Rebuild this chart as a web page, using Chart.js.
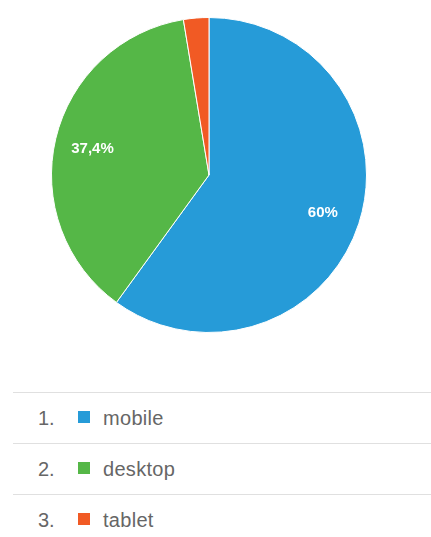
<!DOCTYPE html>
<html>
<head>
<meta charset="utf-8">
<script src="https://cdn.jsdelivr.net/npm/chart.js@4"></script>
<style>
  body { margin: 0; background: #fff; font-family: "Liberation Sans", Arial, sans-serif; }
  #wrap { position: relative; width: 431px; height: 537px; }
  #chartBox { position: absolute; left: 0; top: 0; width: 431px; height: 350px; }
  #legend { position: absolute; left: 13px; top: 392px; width: 418px; }
  .row { height: 50px; border-top: 1px solid #e0e0e0; position: relative; font-size: 20px; line-height: 20px; color: #666; }
  .row .num { position: absolute; left: 25px; top: 15px; }
  .row .sw { position: absolute; left: 65px; top: 18px; width: 12px; height: 12px; }
  .row .name { position: absolute; left: 90px; top: 15px; letter-spacing: 0.3px; }
</style>
</head>
<body>
<div id="wrap">
  <div id="chartBox"><canvas id="pieChart"></canvas></div>
  <div id="legend"></div>
</div>
<script>
const labels = ["mobile", "desktop", "tablet"];
const shares = [60, 37.4, 2.6];
const valueLabels = ["60%", "37,4%", ""];
const colors = ["#269bd8", "#55b747", "#f15a24"];

// white percentage text inside the larger slices
const sliceLabels = {
    id: 'sliceLabels',
    afterDatasetsDraw(chart) {
        const ctx = chart.ctx;
        const meta = chart.getDatasetMeta(0);
        ctx.save();
        ctx.fillStyle = '#fff';
        ctx.font = 'bold 15px "Liberation Sans", Arial, sans-serif';
        ctx.textAlign = 'center';
        ctx.textBaseline = 'middle';
        meta.data.forEach((arc, i) => {
            if (!valueLabels[i]) return;
            const mid = (arc.startAngle + arc.endAngle) / 2;
            const r = arc.outerRadius * 0.76;
            ctx.fillText(valueLabels[i], arc.x + Math.cos(mid) * r, arc.y + Math.sin(mid) * r + 1);
        });
        ctx.restore();
    }
};

new Chart(document.getElementById('pieChart').getContext('2d'), {
    type: 'pie',
    data: {
        labels: labels,
        datasets: [{
            data: shares,
            backgroundColor: colors,
            borderColor: '#fff',
            borderWidth: 1
        }]
    },
    options: {
        responsive: true,
        maintainAspectRatio: false,
        animation: false,
        layout: { padding: { left: 51, right: 64, top: 17, bottom: 17 } },
        plugins: {
            legend: { display: false },
            tooltip: { enabled: false }
        }
    },
    plugins: [sliceLabels]
});

const legend = document.getElementById('legend');
labels.forEach((name, i) => {
    const row = document.createElement('div');
    row.className = 'row';
    row.innerHTML = '<span class="num">' + (i + 1) + '.</span>' +
        '<span class="sw" style="background:' + colors[i] + '"></span>' +
        '<span class="name">' + name + '</span>';
    legend.appendChild(row);
});
</script>
</body>
</html>
